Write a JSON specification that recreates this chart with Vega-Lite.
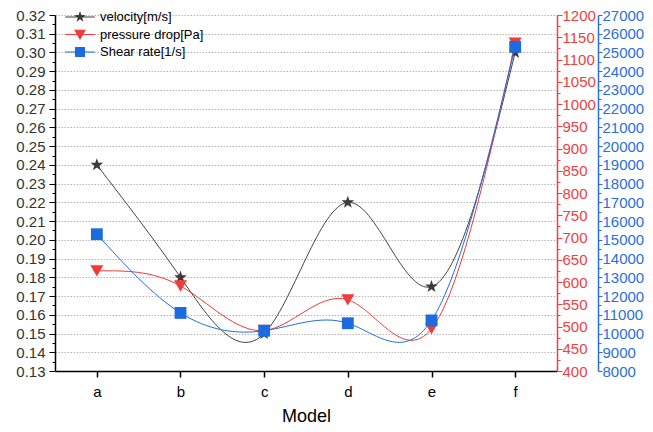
{
  "$schema": "https://vega.github.io/schema/vega-lite/v6.json",
  "width": 502,
  "height": 356,
  "autosize": {"type": "none"},
  "padding": {"left": 55, "top": 15, "right": 96, "bottom": 61},
  "background": "white",
  "config": {
    "view": {"stroke": null},
    "font": "Liberation Sans",
    "axis": {"labelFont": "Liberation Sans", "titleFont": "Liberation Sans"},
    "legend": {"labelFont": "Liberation Sans"}
  },
  "data": {
    "values": [
      {"model": "a", "series": "velocity[m/s]", "value": 0.24},
      {"model": "b", "series": "velocity[m/s]", "value": 0.18},
      {"model": "c", "series": "velocity[m/s]", "value": 0.15},
      {"model": "d", "series": "velocity[m/s]", "value": 0.22},
      {"model": "e", "series": "velocity[m/s]", "value": 0.175},
      {"model": "f", "series": "velocity[m/s]", "value": 0.30},
      {"model": "a", "series": "pressure drop[Pa]", "value": 625},
      {"model": "b", "series": "pressure drop[Pa]", "value": 591},
      {"model": "c", "series": "pressure drop[Pa]", "value": 491},
      {"model": "d", "series": "pressure drop[Pa]", "value": 560},
      {"model": "e", "series": "pressure drop[Pa]", "value": 495},
      {"model": "f", "series": "pressure drop[Pa]", "value": 1137},
      {"model": "a", "series": "Shear rate[1/s]", "value": 15300},
      {"model": "b", "series": "Shear rate[1/s]", "value": 11100},
      {"model": "c", "series": "Shear rate[1/s]", "value": 10150},
      {"model": "d", "series": "Shear rate[1/s]", "value": 10550},
      {"model": "e", "series": "Shear rate[1/s]", "value": 10700},
      {"model": "f", "series": "Shear rate[1/s]", "value": 25300}
    ]
  },
  "encoding": {
    "x": {
      "field": "model",
      "type": "nominal",
      "scale": {"type": "point", "padding": 0.5},
      "axis": {
        "title": "Model",
        "titleFontSize": 18,
        "titleFontWeight": "normal",
        "titleColor": "#000000",
        "titlePadding": 8,
        "labelAngle": 0,
        "labelFontSize": 15,
        "labelColor": "#000000",
        "labelPadding": 7,
        "domainColor": "#000000",
        "domainWidth": 1.5,
        "tickColor": "#000000",
        "tickWidth": 1.5,
        "tickSize": 6,
        "grid": false
      }
    }
  },
  "layer": [
    {
      "transform": [{"filter": "datum.series === 'velocity[m/s]'"}],
      "encoding": {
        "y": {
          "field": "value",
          "type": "quantitative",
          "scale": {"domain": [0.13, 0.32], "zero": false, "nice": false},
          "axis": {
            "orient": "left",
            "title": null,
            "values": [0.13,0.135,0.14,0.145,0.15,0.155,0.16,0.165,0.17,0.175,0.18,0.185,0.19,0.195,0.2,0.205,0.21,0.215,0.22,0.225,0.23,0.235,0.24,0.245,0.25,0.255,0.26,0.265,0.27,0.275,0.28,0.285,0.29,0.295,0.3,0.305,0.31,0.315,0.32],
            "format": ".2f",
            "labelExpr": "abs(datum.value*100 - round(datum.value*100)) > 0.01 ? '' : datum.label",
            "labelOverlap": false,
            "labelFlush": false,
            "labelFontSize": 15,
            "labelColor": "#333333",
            "labelPadding": 4,
            "domainColor": "#000000",
            "domainWidth": 1.5,
            "tickColor": "#000000",
            "tickWidth": 1,
            "tickSize": {"condition": {"test": "abs(datum.value*100 - round(datum.value*100)) > 0.01", "value": 3}, "value": 6},
            "grid": true,
            "gridColor": "#b4b4b4",
            "gridDash": [1.5, 1.5],
            "gridWidth": 1,
            "gridOpacity": {"condition": {"test": "abs(datum.value*100 - round(datum.value*100)) > 0.01 || datum.value < 0.135", "value": 0}, "value": 1}
          }
        }
      },
      "layer": [
        {
          "mark": {"type": "line", "interpolate": "natural", "strokeWidth": 1},
          "encoding": {
            "stroke": {
              "field": "series",
              "type": "nominal",
              "scale": {"domain": ["velocity[m/s]", "pressure drop[Pa]", "Shear rate[1/s]"], "range": ["#444444", "#f03a3a", "#1e6fe0"]},
              "legend": null
            }
          }
        },
        {
          "mark": {"type": "point", "filled": true, "size": 180, "opacity": 1},
          "encoding": {
            "color": {
              "field": "series",
              "type": "nominal",
              "sort": ["velocity[m/s]", "pressure drop[Pa]", "Shear rate[1/s]"],
              "scale": {"range": ["#3a3a3a", "#f23c3c", "#1a6ce0"]},
              "legend": {
                "title": null,
                "orient": "none",
                "legendX": 18,
                "legendY": -5,
                "padding": 0,
                "symbolSize": 140,
                "symbolOpacity": 1,
                "labelFontSize": 13,
                "labelColor": "#000000",
                "labelOffset": 13,
                "rowPadding": 3.5,
                "encode": {
                  "symbols": {
                    "update": {
                      "shape": {"signal": "datum.value === 'velocity[m/s]' ? 'M0,-1L0.235,-0.324L0.951,-0.309L0.38,0.124L0.588,0.809L0,0.4L-0.588,0.809L-0.38,0.124L-0.951,-0.309L-0.235,-0.324Z M-2.5,-0.09L2.5,-0.09L2.5,0.09L-2.5,0.09Z' : datum.value === 'pressure drop[Pa]' ? 'M-1,-0.8L1,-0.8L0,0.95Z M-2.5,-0.09L2.5,-0.09L2.5,0.09L-2.5,0.09Z' : 'M-0.85,-0.85L0.85,-0.85L0.85,0.85L-0.85,0.85Z M-2.5,-0.09L2.5,-0.09L2.5,0.09L-2.5,0.09Z'"}
                    }
                  }
                }
              }
            },
            "shape": {
              "field": "series",
              "type": "nominal",
              "sort": ["velocity[m/s]", "pressure drop[Pa]", "Shear rate[1/s]"],
              "scale": {"range": ["M0,-1L0.235,-0.324L0.951,-0.309L0.38,0.124L0.588,0.809L0,0.4L-0.588,0.809L-0.38,0.124L-0.951,-0.309L-0.235,-0.324Z", "triangle-down", "square"]},
              "legend": null
            }
          }
        }
      ]
    },
    {
      "transform": [{"filter": "datum.series === 'pressure drop[Pa]'"}],
      "encoding": {
        "y": {
          "field": "value",
          "type": "quantitative",
          "scale": {"domain": [400, 1200], "zero": false, "nice": false},
          "axis": {
            "orient": "right",
            "title": null,
            "values": [400,425,450,475,500,525,550,575,600,625,650,675,700,725,750,775,800,825,850,875,900,925,950,975,1000,1025,1050,1075,1100,1125,1150,1175,1200],
            "format": "d",
            "labelExpr": "datum.value % 50 !== 0 ? '' : datum.label",
            "labelOverlap": false,
            "labelFlush": false,
            "labelFontSize": 15,
            "labelColor": "#f04040",
            "labelPadding": 0,
            "domainColor": "#f04040",
            "domainWidth": 1.5,
            "tickColor": "#f04040",
            "tickWidth": 1,
            "tickSize": {"condition": {"test": "datum.value % 50 !== 0", "value": 3}, "value": 5},
            "grid": false
          }
        }
      },
      "layer": [
        {
          "mark": {"type": "line", "interpolate": "natural", "strokeWidth": 1},
          "encoding": {"stroke": {"field": "series", "type": "nominal", "legend": null}}
        },
        {
          "mark": {"type": "point", "filled": true, "size": 170, "opacity": 1},
          "encoding": {
            "color": {"field": "series", "type": "nominal", "sort": ["velocity[m/s]", "pressure drop[Pa]", "Shear rate[1/s]"]},
            "shape": {"field": "series", "type": "nominal", "sort": ["velocity[m/s]", "pressure drop[Pa]", "Shear rate[1/s]"], "legend": null}
          }
        }
      ]
    },
    {
      "transform": [{"filter": "datum.series === 'Shear rate[1/s]'"}],
      "encoding": {
        "y": {
          "field": "value",
          "type": "quantitative",
          "scale": {"domain": [8000, 27000], "zero": false, "nice": false},
          "axis": {
            "orient": "right",
            "offset": 41,
            "title": null,
            "values": [8000,8500,9000,9500,10000,10500,11000,11500,12000,12500,13000,13500,14000,14500,15000,15500,16000,16500,17000,17500,18000,18500,19000,19500,20000,20500,21000,21500,22000,22500,23000,23500,24000,24500,25000,25500,26000,26500,27000],
            "format": "d",
            "labelExpr": "datum.value % 1000 !== 0 ? '' : datum.label",
            "labelOverlap": false,
            "labelFlush": false,
            "labelFontSize": 15,
            "labelColor": "#2a6fdc",
            "labelPadding": 0,
            "domainColor": "#2a6fdc",
            "domainWidth": 1.5,
            "tickColor": "#2a6fdc",
            "tickWidth": 1,
            "tickSize": {"condition": {"test": "datum.value % 1000 !== 0", "value": 3}, "value": 4},
            "grid": false
          }
        }
      },
      "layer": [
        {
          "mark": {"type": "line", "interpolate": "natural", "strokeWidth": 1},
          "encoding": {"stroke": {"field": "series", "type": "nominal", "legend": null}}
        },
        {
          "mark": {"type": "point", "filled": true, "size": 140, "opacity": 1},
          "encoding": {
            "color": {"field": "series", "type": "nominal", "sort": ["velocity[m/s]", "pressure drop[Pa]", "Shear rate[1/s]"]},
            "shape": {"field": "series", "type": "nominal", "sort": ["velocity[m/s]", "pressure drop[Pa]", "Shear rate[1/s]"], "legend": null}
          }
        }
      ]
    }
  ],
  "resolve": {"scale": {"y": "independent"}}
}
